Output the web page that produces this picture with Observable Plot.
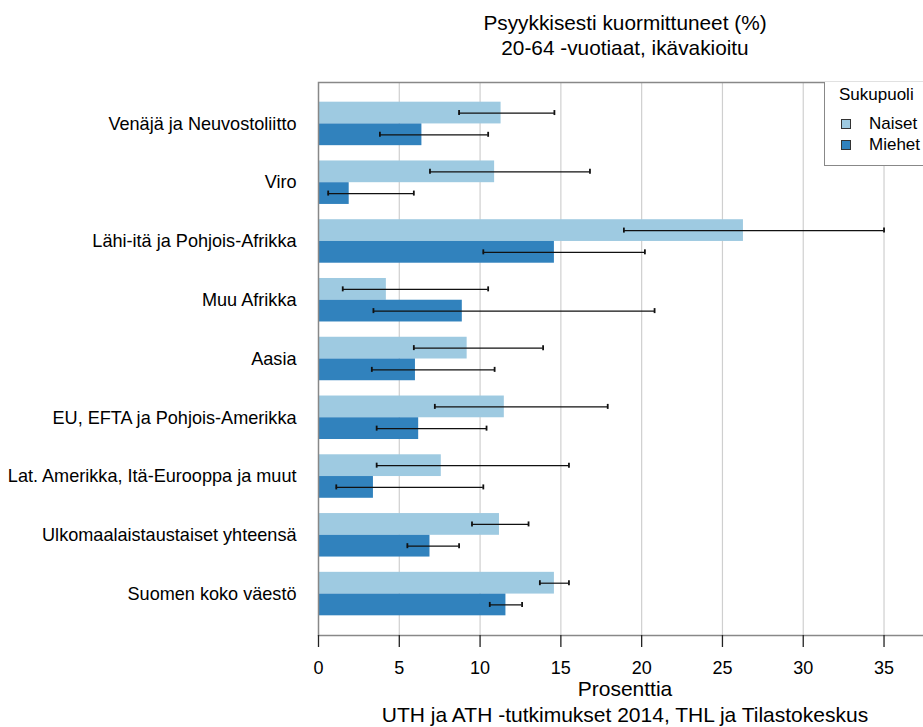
<!DOCTYPE html>
<html>
<head>
<meta charset="utf-8">
<script src="https://cdn.jsdelivr.net/npm/d3@7"></script>
<script src="https://cdn.jsdelivr.net/npm/@observablehq/plot@0.6"></script>
<style>
  html, body { margin: 0; padding: 0; overflow: hidden; background: #fff; }
  #wrap { position: relative; width: 923px; height: 727px; overflow: hidden;
          font-family: "Liberation Sans", Arial, sans-serif; color: #000; }
  .title { position: absolute; left: 318px; width: 614px; text-align: center;
           font-size: 20.8px; line-height: 25px; }
  #chart { position: absolute; left: 0; top: 70px; width: 950px; }
  #chart svg { max-width: none !important; }
  .below { position: absolute; left: 318px; width: 614px; text-align: center; font-size: 21px; line-height: 19px; white-space: nowrap; }
  #legend { position: absolute; left: 824px; top: 82px; width: 130px; height: 83px;
            border-left: 1px solid #888; border-bottom: 1px solid #888; background: #fff; font-size: 17px; }
  #legend .head { position: absolute; left: 14px; top: 3px; }
  #legend .item { position: absolute; left: 16px; height: 20px; line-height: 20px; }
  #legend .sw { position: absolute; left: 0; top: 5px; width: 8px; height: 8px; border: 1px solid #333; }
  #legend .lab { position: absolute; left: 28px; top: 0; white-space: nowrap; }
</style>
</head>
<body>
<div id="wrap">
  <div class="title" style="top:10px">Psyykkisesti kuormittuneet (%)<br>20-64 -vuotiaat, ikävakioitu</div>
  <div id="chart"></div>
  <div class="below" style="top:679px">Prosenttia</div>
  <div class="below" style="top:705px">UTH ja ATH -tutkimukset 2014, THL ja Tilastokeskus</div>
  <div id="legend"></div>
</div>
<script>
const categories = [
  "Venäjä ja Neuvostoliitto",
  "Viro",
  "Lähi-itä ja Pohjois-Afrikka",
  "Muu Afrikka",
  "Aasia",
  "EU, EFTA ja Pohjois-Amerikka",
  "Lat. Amerikka, Itä-Eurooppa ja muut",
  "Ulkomaalaistaustaiset yhteensä",
  "Suomen koko väestö"
];
const series = ["Naiset", "Miehet"];
const seriesColors = ["#9ecae1", "#3182bd"];
const naiset     = [11.3, 10.9, 26.3, 4.2, 9.2, 11.5, 7.6, 11.2, 14.6];
const naisetLow  = [8.7, 6.9, 18.9, 1.5, 5.9, 7.2, 3.6, 9.5, 13.7];
const naisetHigh = [14.6, 16.8, 35.0, 10.5, 13.9, 17.9, 15.5, 13.0, 15.5];
const miehet     = [6.4, 1.9, 14.6, 8.9, 6.0, 6.2, 3.4, 6.9, 11.6];
const miehetLow  = [3.8, 0.6, 10.2, 3.4, 3.3, 3.6, 1.1, 5.5, 10.6];
const miehetHigh = [10.5, 5.9, 20.2, 20.8, 10.9, 10.4, 10.2, 8.7, 12.6];
const xTicks = [0, 5, 10, 15, 20, 25, 30, 35];

const rowsN = categories.map((c, i) => ({cat: c, v: naiset[i], lo: naisetLow[i], hi: naisetHigh[i]}));
const rowsM = categories.map((c, i) => ({cat: c, v: miehet[i], lo: miehetLow[i], hi: miehetHigh[i]}));

const height = 617, marginTop = 12, marginBottom = 52;
const pInner = 0.26, pOuter = 0.335;
const step = (height - marginTop - marginBottom) / (categories.length - pInner + 2 * pOuter);
const bw = step * (1 - pInner);
const half = bw / 2, q = bw / 4, cap = 2.5;

const chart = Plot.plot({
  width: 950,
  height,
  marginLeft: 318,
  marginRight: 18,
  marginTop,
  marginBottom,
  style: {fontFamily: "'Liberation Sans', Arial, sans-serif", background: "transparent", color: "#000", maxWidth: "none"},
  x: {domain: [0, 38]},
  y: {domain: categories, paddingInner: pInner, paddingOuter: pOuter, round: false},
  marks: [
    Plot.gridX(xTicks.slice(1), {stroke: "#cfcfcf", strokeOpacity: 1, strokeWidth: 1.2}),
    Plot.barX(rowsN, {x: "v", y: "cat", fill: seriesColors[0], insetBottom: half}),
    Plot.barX(rowsM, {x: "v", y: "cat", fill: seriesColors[1], insetTop: half}),
    Plot.ruleY(rowsN, {y: "cat", x1: "lo", x2: "hi", dy: -q, stroke: "#111", strokeWidth: 1.2}),
    Plot.ruleY(rowsM, {y: "cat", x1: "lo", x2: "hi", dy: q, stroke: "#111", strokeWidth: 1.2}),
    Plot.tickX(rowsN, {x: "lo", y: "cat", insetTop: q - cap, insetBottom: 3 * q - cap, stroke: "#111", strokeWidth: 1.8}),
    Plot.tickX(rowsN, {x: "hi", y: "cat", insetTop: q - cap, insetBottom: 3 * q - cap, stroke: "#111", strokeWidth: 1.8}),
    Plot.tickX(rowsM, {x: "lo", y: "cat", insetTop: 3 * q - cap, insetBottom: q - cap, stroke: "#111", strokeWidth: 1.8}),
    Plot.tickX(rowsM, {x: "hi", y: "cat", insetTop: 3 * q - cap, insetBottom: q - cap, stroke: "#111", strokeWidth: 1.8}),
    Plot.frame({stroke: "#888", strokeWidth: 1.5}),
    Plot.axisX({ticks: xTicks, tickSize: 12, tickPadding: 14, fontSize: 18, label: null, stroke: "#222", strokeWidth: 1.3}),
    Plot.axisY({tickSize: 0, tickPadding: 22, fontSize: 18.1, label: null})
  ]
});
document.getElementById("chart").appendChild(chart);

const legend = document.getElementById("legend");
legend.innerHTML = `<div class="head">Sukupuoli</div>` +
  series.map((s, i) => `<div class="item" style="top:${32 + i * 21}px"><div class="sw" style="background:${seriesColors[i]}"></div><div class="lab">${s}</div></div>`).join("");
</script>
</body>
</html>
